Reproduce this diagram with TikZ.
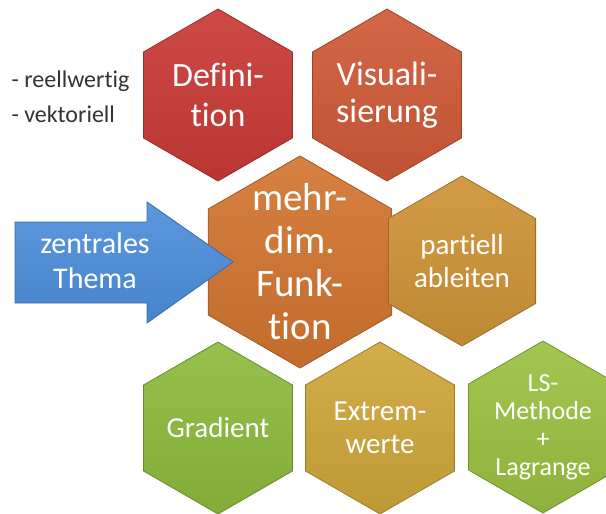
\documentclass[tikz,border=0pt]{standalone}
\usepackage{fontspec}
\setmainfont{Carlito}[Ligatures=NoCommon]
\usetikzlibrary{shapes.geometric}
\definecolor{rot}{HTML}{C93A36}
\definecolor{ziegel}{HTML}{CF5A38}
\definecolor{kern}{HTML}{D27531}
\definecolor{ocker}{HTML}{CF9337}
\definecolor{gruen}{HTML}{8CBB3C}
\definecolor{gold}{HTML}{D0A63B}
\definecolor{hellgruen}{HTML}{9BC141}
\definecolor{blau}{HTML}{4E8FDB}
\begin{document}
\begin{tikzpicture}[x=1pt,y=-1pt,
    hexa/.style={regular polygon, regular polygon sides=6, shape border rotate=30,
      minimum size=172pt, inner sep=0pt, align=center, text=white,
      line width=0.8pt, font=\fontsize{29}{33}\selectfont},
    fillhex/.style={top color=#1!92!white, bottom color=#1!92!black, draw=#1!75!black}]
  \useasboundingbox (0,0) rectangle (606,514);
  % obere Reihe
  \node [hexa, fillhex=rot, font=\fontsize{34}{40}\selectfont] (def) at (218,95) {Defini-\\tion};
  \node [hexa, fillhex=ziegel, font=\fontsize{34}{37}\selectfont] (vis) at (387,95) {Visuali-\\sierung};
  \node [align=left, text=black!80, font=\fontsize{24}{35}\selectfont, anchor=west] (eig) at (8,97) {- reellwertig\\- vektoriell};
  % Mitte
  \node [hexa, fillhex=kern, minimum size=212pt, inner sep=-25pt, font=\fontsize{39}{43}\selectfont] (fkt) at (300,262) {mehr-\\dim.\\Funk-\\tion};
  \node [hexa, fillhex=ocker, minimum size=170pt] (part) at (462,261) {partiell\\ableiten};
  % untere Reihe
  \node [hexa, fillhex=gruen] (grad) at (218,428) {Gradient};
  \node [hexa, fillhex=gold] (ext) at (380,428) {Extrem-\\werte};
  \node [hexa, fillhex=hellgruen, minimum size=168pt, font=\fontsize{26}{28}\selectfont] (ls) at (543,427) {LS-\\Methode\\+\\Lagrange};
  % Pfeil
  \draw [fillhex=blau, line width=0.8pt] (15,222) -- (147,222) -- (147,202) -- (233,262)
    -- (147,323) -- (147,303) -- (15,303) -- cycle;
  \node [text=white, align=center, font=\fontsize{30}{35}\selectfont] (thema) at (95,261) {zentrales\\Thema};
\end{tikzpicture}
\end{document}
